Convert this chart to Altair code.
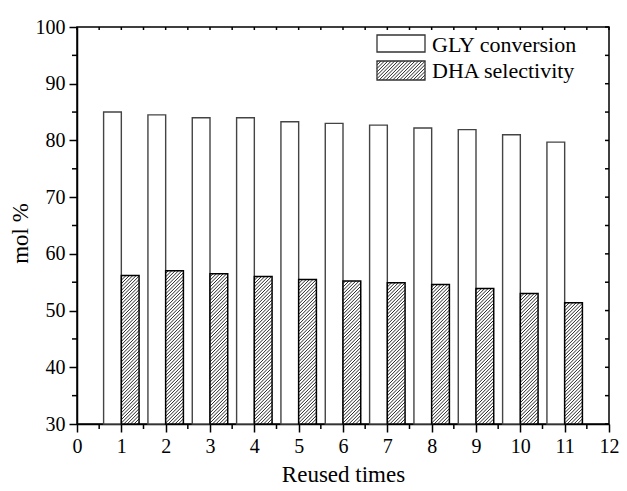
import altair as alt
import pandas as pd

# ---- data ----
reuse = list(range(1, 12))
gly_conversion = [85.0, 84.5, 84.0, 84.0, 83.3, 83.0, 82.7, 82.2, 81.9, 81.0, 79.7]
dha_selectivity = [56.2, 57.0, 56.5, 56.0, 55.5, 55.2, 54.9, 54.6, 53.9, 53.0, 51.4]
series_names = ["GLY conversion", "DHA selectivity"]
x_ticks = list(range(0, 13))
x_minor = [i + 0.5 for i in range(12)]
x_top = [i * 0.5 for i in range(25)]
y_ticks = list(range(30, 101, 10))
y_minor = list(range(35, 100, 10))
y_right = list(range(30, 101, 5))

W, H = 532, 397
XMIN, XMAX, YMIN, YMAX = 0, 12, 30, 100
BAR_W = 0.4
kx = W / (XMAX - XMIN)
ky = H / (YMAX - YMIN)
FONT = "Liberation Serif"

xs = alt.Scale(domain=[XMIN, XMAX], nice=False, zero=False)
ys = alt.Scale(domain=[YMIN, YMAX], nice=False, zero=False)

bars = pd.DataFrame({
    "reuse": reuse,
    "gly": gly_conversion,
    "dha": dha_selectivity,
})
bars["g0"] = bars["reuse"] - BAR_W
bars["g1"] = bars["reuse"]
bars["d0"] = bars["reuse"]
bars["d1"] = bars["reuse"] + BAR_W
bars["base"] = YMIN


def hatch(left_px, top_px, w, h, step=3.4):
    """45-degree '////' hatch lines inside a pixel rectangle, returned in data units."""
    out = []
    c = -w + step / 2
    while c < h:
        p0 = max(0.0, -c)
        p1 = min(w, h - c)
        if p1 > p0:
            xa, ya = left_px + p0, top_px + h - (p0 + c)
            xb, yb = left_px + p1, top_px + h - (p1 + c)
            out.append({
                "x": XMIN + xa / kx, "y": YMAX - ya / ky,
                "x2": XMIN + xb / kx, "y2": YMAX - yb / ky,
            })
        c += step
    return out


hrows = []
for r, v in zip(reuse, dha_selectivity):
    left = (r - XMIN) * kx
    hh = (v - YMIN) * ky
    hrows += hatch(left, H - hh, BAR_W * kx, hh)

LX0, LX1 = 300, 348
L1 = (8, 25)
L2 = (34, 53)
lrows = hatch(LX0, L2[0], LX1 - LX0, L2[1] - L2[0])
hatch_df = pd.DataFrame(hrows + lrows)

axis_font = dict(labelFont=FONT, titleFont=FONT, labelFlush=False)

gly_bars = alt.Chart(bars).mark_rect(
    fill="white", stroke="#444444", strokeWidth=1.4
).encode(
    x=alt.X("g0:Q", scale=xs, title="Reused times",
            axis=alt.Axis(values=x_ticks, format="d", titlePadding=7, **axis_font)),
    x2="g1:Q",
    y=alt.Y("gly:Q", scale=ys, title="mol %",
            axis=alt.Axis(values=y_ticks, format="d", titlePadding=3, titleY=206, **axis_font)),
    y2="base:Q",
)

dha_fill = alt.Chart(bars).mark_rect(fill="white", strokeWidth=0).encode(
    x=alt.X("d0:Q", scale=xs, title="Reused times"), x2="d1:Q",
    y=alt.Y("dha:Q", scale=ys, title="mol %"), y2="base:Q",
)

hatch_layer = alt.Chart(hatch_df).mark_rule(color="black", strokeWidth=0.85).encode(
    x=alt.X("x:Q", scale=xs, title="Reused times"), x2="x2:Q",
    y=alt.Y("y:Q", scale=ys, title="mol %"), y2="y2:Q",
)

dha_outline = alt.Chart(bars).mark_rect(
    fill=None, fillOpacity=0, stroke="black", strokeWidth=1.5
).encode(
    x=alt.X("d0:Q", scale=xs, title="Reused times"), x2="d1:Q",
    y=alt.Y("dha:Q", scale=ys, title="mol %"), y2="base:Q",
)

xmin_df = pd.DataFrame({"t": x_minor})
x_minor_ticks = alt.Chart(xmin_df).mark_rule(color="black", strokeWidth=1.5).encode(
    x=alt.X("t:Q", scale=xs, title="Reused times"), y=alt.value(H), y2=alt.value(H + 5),
)
ymin_df = pd.DataFrame({"t": y_minor})
y_minor_ticks = alt.Chart(ymin_df).mark_rule(color="black", strokeWidth=1.5).encode(
    y=alt.Y("t:Q", scale=ys, title="mol %"), x=alt.value(0), x2=alt.value(-5),
)
xtop_df = pd.DataFrame({"t": x_top})
x_top_ticks = alt.Chart(xtop_df).mark_rule(color="black", strokeWidth=1.5).encode(
    x=alt.X("t:Q", scale=xs, title="Reused times"), y=alt.value(0), y2=alt.value(3),
)
yr_df = pd.DataFrame({"t": y_right})
y_right_ticks = alt.Chart(yr_df).mark_rule(color="black", strokeWidth=1.5).encode(
    y=alt.Y("t:Q", scale=ys, title="mol %"), x=alt.value(W), x2=alt.value(W - 4),
)

one = pd.DataFrame({"label": [series_names[0]]})
two = pd.DataFrame({"label": [series_names[1]]})
leg_box1 = alt.Chart(one).mark_rect(fill="white", stroke="#333333", strokeWidth=1.3).encode(
    x=alt.value(LX0), x2=alt.value(LX1), y=alt.value(L1[0]), y2=alt.value(L1[1]),
)
leg_box2 = alt.Chart(two).mark_rect(fill=None, fillOpacity=0, stroke="#333333", strokeWidth=1.3).encode(
    x=alt.value(LX0), x2=alt.value(LX1), y=alt.value(L2[0]), y2=alt.value(L2[1]),
)
leg_text1 = alt.Chart(one).mark_text(
    align="left", baseline="alphabetic", font=FONT, fontSize=22, color="black"
).encode(x=alt.value(LX1 + 7), y=alt.value(25), text="label:N")
leg_text2 = alt.Chart(two).mark_text(
    align="left", baseline="alphabetic", font=FONT, fontSize=22, color="black"
).encode(x=alt.value(LX1 + 7), y=alt.value(51), text="label:N")

chart = alt.layer(
    gly_bars, dha_fill, hatch_layer, dha_outline,
    x_minor_ticks, y_minor_ticks, x_top_ticks, y_right_ticks,
    leg_box1, leg_box2, leg_text1, leg_text2,
).properties(
    width=W, height=H,
    background="white",
    autosize=alt.AutoSizeParams(type="none"),
    padding={"left": 69, "top": 19, "right": 10, "bottom": 65},
).configure(
    font=FONT,
).configure_view(
    stroke="black", strokeWidth=1.5,
).configure_axis(
    labelFont=FONT, labelFontSize=20, labelColor="black", labelPadding=4,
    labelFlush=False,
    titleFont=FONT, titleFontSize=23, titleFontWeight="normal", titleColor="black",
    domainColor="black", domainWidth=1.5, tickColor="black", tickWidth=1.5,
    tickSize=8, grid=False,
)

chart.save("out.html", embed_options={"renderer": "svg", "actions": False})
